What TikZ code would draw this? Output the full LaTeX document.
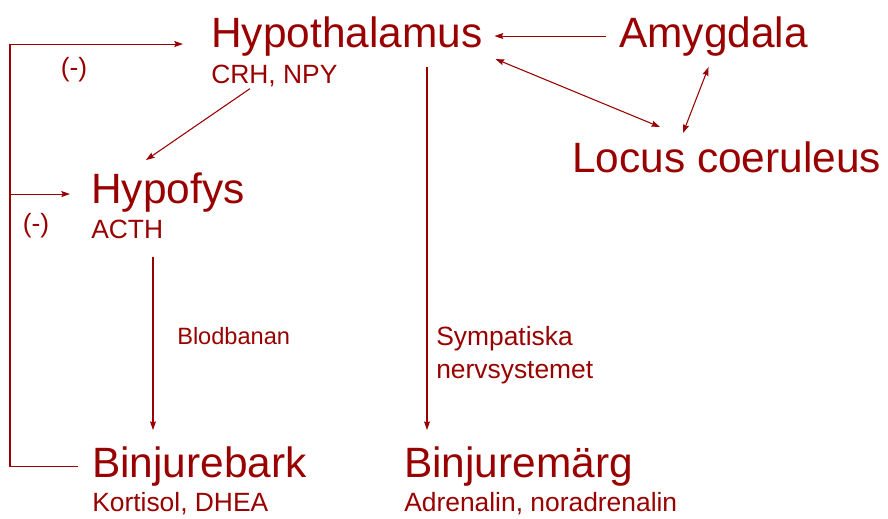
\documentclass[tikz,border=0pt]{standalone}
\usepackage{fontspec}
\setmainfont{Liberation Sans}
\usetikzlibrary{arrows.meta,calc}
\definecolor{brick}{HTML}{990000}

\tikzset{
  big/.style={font=\fontsize{31.8}{38}\selectfont,text=brick,inner sep=0pt,anchor=base west},
  small/.style={font=\fontsize{19.8}{24.75}\selectfont,text=brick,inner sep=0pt,anchor=base west},
  link/.style={draw=brick,line width=0.8pt,-{Stealth[length=6.5pt,width=4.5pt,inset=1pt]}},
  both/.style={link,{Stealth[length=6.5pt,width=4.5pt,inset=1pt]}-{Stealth[length=6.5pt,width=4.5pt,inset=1pt]}}
}

\begin{document}
\begin{tikzpicture}[x=0.75pt,y=-0.75pt]
  \useasboundingbox (0,0) rectangle (888,518);

  % structures
  \node[big] (hypo) at (211,47) {Hypothalamus};
  \node[small] (crh) at (211,83) {CRH, NPY};
  \node[big] (amyg) at (619,47) {Amygdala};
  \node[big] (locus) at (572,172) {Locus coeruleus};
  \node[big] (hypof) at (91,203) {Hypofys};
  \node[small] (acth) at (91,238) {ACTH};
  \node[big] (bark) at (92,477) {Binjurebark};
  \node[small] (kort) at (92,511) {Kortisol, DHEA};
  \node[big] (marg) at (404,477) {Binjurem\"arg};
  \node[small] (adren) at (404,511) {Adrenalin, noradrenalin};

  % path labels
  \node[small,font=\fontsize{17.7}{22}\selectfont] (blod) at (177,344) {Blodbanan};
  \node[small,anchor=north west,align=left] (symp) at (436,326) {Sympatiska\\nervsystemet};
  \node[small,anchor=center] (neg1) at (74,70) {(-)};
  \node[small,anchor=center] (neg2) at (36,226) {(-)};

  \coordinate (rail) at (10,0);

  % feedback
  \draw[link] ($(bark.west)+(-14,0)$) -- (rail |- bark.west) |- ($(hypo.west)+(-28,8)$);
  \draw[link] ($(rail |- hypof.west)+(0,2)$) -- ($(hypof.west)+(-21,2)$);

  % axes
  \draw[link] ($(amyg.west)+(-13,0)$) -- ($(hypo.east)+(12,0)$);
  \draw[both] ($(hypo.east)+(13,23)$) -- ($(locus.north west)+(88,-14)$);
  \draw[both] ($(amyg.south)+(-5,11)$) -- ($(locus.north west)+(111,-8)$);
  \draw[link] ($(crh.south west)+(39,2)$) -- ($(hypof.north west)+(55,-12)$);
  \draw[link] ($(acth.south west)+(62,18)$) -- ($(bark.north west)+(61,-16)$);
  \draw[link] ($(hypo.south west)+(216,11)$) -- ($(marg.north west)+(23,-16)$);
\end{tikzpicture}
\end{document}
